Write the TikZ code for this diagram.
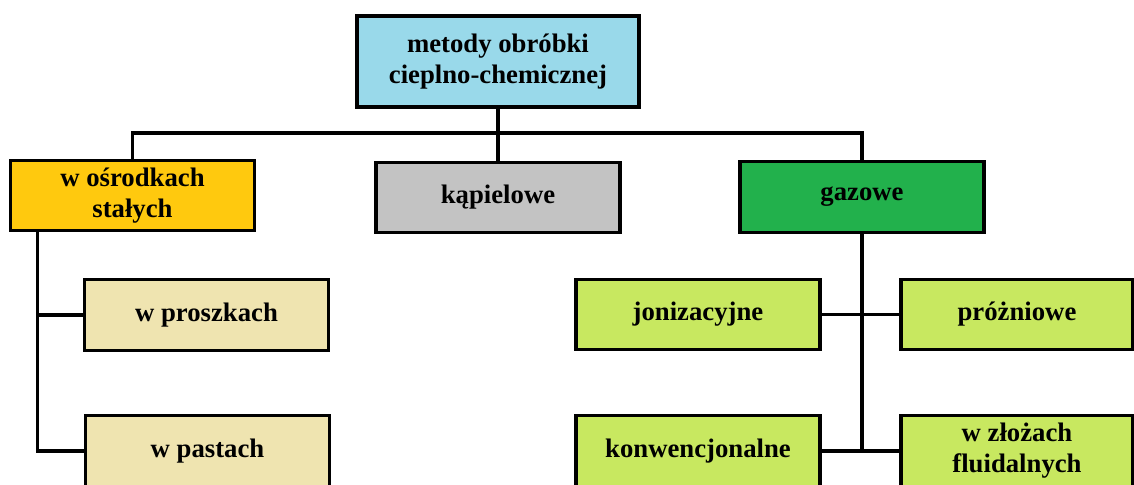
\documentclass[tikz,border=0pt]{standalone}
\usepackage{fontspec}
\setmainfont{Liberation Serif}
\definecolor{niebieski}{RGB}{153,217,234}
\definecolor{zloty}{RGB}{255,201,14}
\definecolor{szary}{RGB}{195,195,195}
\definecolor{zielony}{RGB}{34,177,76}
\definecolor{bezowy}{RGB}{239,228,176}
\definecolor{limonka}{RGB}{200,232,96}
\begin{document}
\begin{tikzpicture}[x=0.025cm,y=-0.025cm,line width=2.3pt,
    box/.style={draw,minimum width=6.1cm,minimum height=1.76cm,align=center,
        font=\fontsize{19}{22}\selectfont\bfseries,inner sep=0pt}]
    \useasboundingbox(0,0)rectangle(1134,485);
    \node[box,fill=niebieski,minimum width=7.05cm,minimum height=2.27cm](metody)at(498,61.5){metody obróbki\\cieplno-chemicznej};
    \node[box,fill=zloty](stale)at(132.5,195.5){w ośrodkach\\stałych};
    \node[box,fill=szary](kapiel)at(498,197.5){kąpielowe};
    \node[box,fill=zielony](gaz)at(862,197){gazowe};
    \node[box,fill=bezowy](proszki)at(206.5,315){w proszkach};
    \node[box,fill=bezowy](pasty)at(207.5,451){w pastach};
    \node[box,fill=limonka](jon)at(698,314.5){jonizacyjne};
    \node[box,fill=limonka,minimum width=5.8cm](proz)at(1017,314.5){próżniowe};
    \node[box,fill=limonka](konw)at(698,451){konwencjonalne};
    \node[box,fill=limonka,minimum width=5.8cm](fluid)at(1017,451){w złożach\\fluidalnych};
    % szyna pod tytulem
    \coordinate(szyna)at(0,133);
    \draw(metody)--(kapiel);
    \draw(stale.north)|-(gaz.north|-szyna)--(gaz.north);
    % galaz lewa
    \path(stale.south west)++(29,0)coordinate(lewy);
    \draw(lewy)|-(pasty.west);
    \draw(lewy|-proszki.west)--(proszki.west);
    % galaz prawa
    \draw(gaz.south)--(gaz.south|-konw.east);
    \draw(jon.east)--(proz.west);
    \draw(konw.east)--(fluid.west);
\end{tikzpicture}
\end{document}
